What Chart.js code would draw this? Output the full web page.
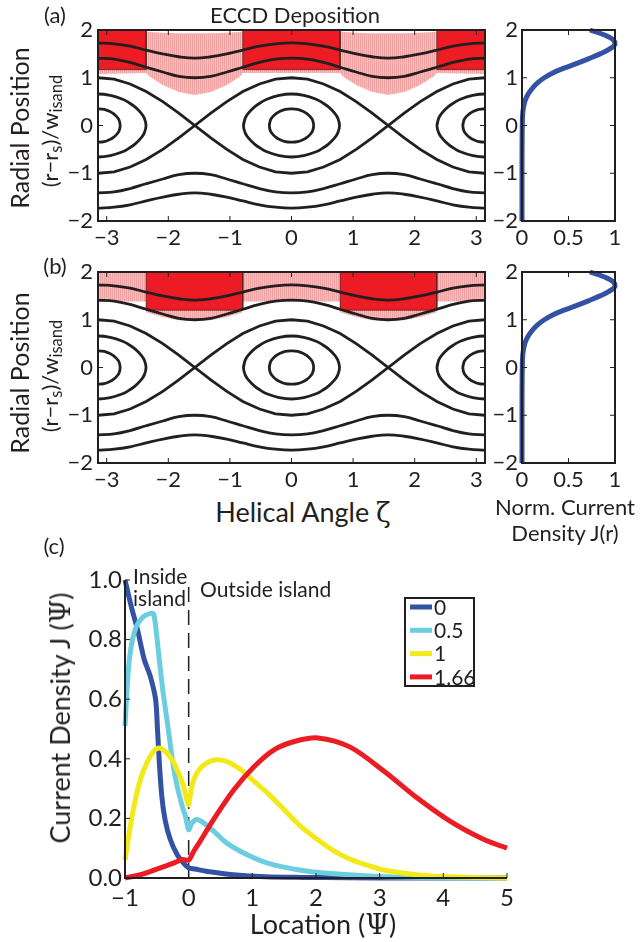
<!DOCTYPE html>
<html>
<head>
<meta charset="utf-8">
<script src="https://cdn.jsdelivr.net/npm/chart.js@4.4.1/dist/chart.umd.min.js"></script>
<style>
  body { margin: 0; background: #fff; }
  #fig { position: relative; width: 644px; height: 942px; overflow: hidden; font-family: Lato, 'Open Sans', sans-serif; color: #231f20; }
  canvas { position: absolute; }
  .t { position: absolute; white-space: nowrap; transform: translate(-50%, -50%); line-height: 1; }
  .rot { transform: translate(-50%, -50%) rotate(-90deg); }
  .l { position: absolute; white-space: nowrap; line-height: 1; }
  .gr { font-family: 'DejaVu Serif', 'Liberation Serif', serif; }
  sub { font-size: 75%; vertical-align: -0.25em; }
</style>
</head>
<body>
<div id="fig">
  <canvas id="aMain" width="495" height="250" style="left:0;top:0"></canvas>
  <canvas id="aProf" width="164" height="250" style="left:480px;top:0"></canvas>
  <canvas id="bMain" width="495" height="250" style="left:0;top:242px"></canvas>
  <canvas id="bProf" width="164" height="250" style="left:480px;top:242px"></canvas>
  <canvas id="cLines" width="540" height="382" style="left:0;top:560px"></canvas>

  <div class="t" style="left:55px;top:15px;font-size:22px">(a)</div>
  <div class="t" style="left:295px;top:15px;font-size:22px">ECCD Deposition</div>
  <div class="t rot" style="left:19px;top:128px;font-size:25px">Radial Position</div>
  <div class="t rot" style="left:52px;top:131px;font-size:22px">(r−r<sub>s</sub>)/w<sub>isand</sub></div>

  <div class="t" style="left:55px;top:266px;font-size:22px">(b)</div>
  <div class="t rot" style="left:19px;top:373px;font-size:25px">Radial Position</div>
  <div class="t rot" style="left:52px;top:376px;font-size:22px">(r−r<sub>s</sub>)/w<sub>isand</sub></div>

  <div class="t" style="left:303px;top:512px;font-size:27px">Helical Angle <span class="gr">ζ</span></div>
  <div class="t" style="left:565px;top:507px;font-size:22px">Norm. Current</div>
  <div class="t" style="left:565px;top:533px;font-size:22px">Density J(r)</div>

  <div class="t" style="left:54px;top:546px;font-size:22px">(c)</div>
  <div class="l" style="left:133px;top:565px;font-size:21px">Inside</div>
  <div class="l" style="left:133px;top:587px;font-size:21px">island</div>
  <div class="l" style="left:200px;top:578px;font-size:21px">Outside island</div>
  <div class="t rot" style="left:60px;top:718px;font-size:27px">Current Density J (<span class="gr">Ψ</span>)</div>
  <div class="t" style="left:323px;top:924px;font-size:27px">Location (<span class="gr">Ψ</span>)</div>
</div>

<script>
// ---- flux-surface contours (shared by panels a and b) ----
const zetaGrid = [-3.14, -2.88, -2.62, -2.36, -2.09, -1.83, -1.57, -1.31, -1.05, -0.79, -0.52, -0.26, 0,
                  0.26, 0.52, 0.79, 1.05, 1.31, 1.57, 1.83, 2.09, 2.36, 2.62, 2.88, 3.14];
const outerWave = [1.73, 1.71, 1.66, 1.58, 1.50, 1.44, 1.41, 1.44, 1.50, 1.58, 1.66, 1.71, 1.73,
                   1.71, 1.66, 1.58, 1.50, 1.44, 1.41, 1.44, 1.50, 1.58, 1.66, 1.71, 1.73];
const innerWave = [1.41, 1.39, 1.32, 1.22, 1.12, 1.03, 1.00, 1.03, 1.12, 1.22, 1.32, 1.39, 1.41,
                   1.39, 1.32, 1.22, 1.12, 1.03, 1.00, 1.03, 1.12, 1.22, 1.32, 1.39, 1.41];
const separatrix = [1.00, 0.97, 0.87, 0.71, 0.50, 0.26, 0, 0.26, 0.50, 0.71, 0.87, 0.97, 1.00,
                    0.97, 0.87, 0.71, 0.50, 0.26, 0, 0.26, 0.50, 0.71, 0.87, 0.97, 1.00];
// half-width of closed surfaces inside the island (from O-point outward)
const smallIslandZeta = [0, 0.1, 0.2, 0.25, 0.3, 0.34, 0.36];
const smallIslandR    = [0.35, 0.34, 0.29, 0.25, 0.19, 0.12, 0];
const midIslandZeta   = [0, 0.2, 0.4, 0.5, 0.6, 0.7, 0.75, 0.78];
const midIslandR      = [0.66, 0.63, 0.55, 0.48, 0.39, 0.26, 0.16, 0];
const islandCenters   = [-3.1416, 0, 3.1416];

// ---- ECCD deposition regions ----
const boxesA = [[-3.14, -2.36], [-0.79, 0.79], [2.36, 3.14]];
const boxRA  = [1.17, 2.0];
const pinkZetaA   = [-3.14, -2.36, -2.3, -2.09, -1.83, -1.57, -1.31, -1.05, -0.84, -0.79,
                     0.79, 0.84, 1.05, 1.31, 1.57, 1.83, 2.09, 2.3, 2.36, 3.14];
const pinkTopA    = [1.98, 1.97, 1.96, 1.94, 1.93, 1.93, 1.93, 1.94, 1.96, 1.97,
                     1.97, 1.96, 1.94, 1.93, 1.93, 1.93, 1.94, 1.96, 1.97, 1.98];
const pinkBottomA = [1.08, 1.10, 1.02, 0.85, 0.70, 0.64, 0.70, 0.85, 1.02, 1.10,
                     1.10, 1.02, 0.85, 0.70, 0.64, 0.70, 0.85, 1.02, 1.10, 1.08];

const boxesB = [[-2.36, -0.79], [0.79, 2.36]];
const boxRB  = [1.20, 2.0];
const pinkZetaB   = [-3.14, -2.36, -2.35, -2.09, -1.83, -1.57, -1.31, -1.05, -0.8, -0.79,
                     0.79, 0.8, 1.05, 1.31, 1.57, 1.83, 2.09, 2.35, 2.36, 3.14];
const pinkTopB    = [2, 2, 2, 2, 2, 2, 2, 2, 2, 2, 2, 2, 2, 2, 2, 2, 2, 2, 2, 2];
const pinkBottomB = [1.38, 1.38, 1.15, 1.06, 0.99, 0.97, 0.99, 1.06, 1.15, 1.38,
                     1.38, 1.15, 1.06, 0.99, 0.97, 0.99, 1.06, 1.15, 1.38, 1.38];

// ---- normalised current profile J(r) ----
const profR = [-2, -1, 0, 0.3, 0.5, 0.6, 0.7, 0.8, 0.9, 1.0, 1.1, 1.2, 1.3, 1.4, 1.5, 1.6, 1.7, 1.8, 1.9, 2.0];
const profJ = [0, 0, 0.003, 0.01, 0.03, 0.05, 0.08, 0.12, 0.17, 0.24, 0.33, 0.45, 0.59, 0.72, 0.84, 0.94, 1.0, 0.98, 0.88, 0.73];

// ---- panel (c) current density vs location ----
const seriesLabels = ['0', '0.5', '1', '1.66'];
const seriesColors = ['#3452a4', '#6dcde0', '#f2ea18', '#ec1c24'];
const psi0   = [-1, -0.9, -0.8, -0.7, -0.6, -0.52, -0.49, -0.46, -0.42, -0.37, -0.29, -0.18, -0.08, 0, 0.1, 0.3, 0.7, 1.2, 1.8, 2.5, 3.5, 5];
const j0     = [1.0, 0.91, 0.83, 0.735, 0.675, 0.60, 0.50, 0.385, 0.27, 0.195, 0.13, 0.078, 0.05, 0.034, 0.03, 0.022, 0.011, 0.004, 0.002, 0.001, 0, 0];
const psi05  = [-1, -0.95, -0.9, -0.82, -0.71, -0.6, -0.55, -0.5, -0.45, -0.4, -0.34, -0.29, -0.24, -0.18, -0.1, -0.05, 0, 0.05, 0.13, 0.24, 0.4, 0.6, 0.92, 1.24, 1.76, 2.24, 3, 4, 5];
const j05    = [0.51, 0.69, 0.78, 0.845, 0.877, 0.888, 0.886, 0.81, 0.71, 0.62, 0.53, 0.45, 0.374, 0.307, 0.24, 0.207, 0.162, 0.184, 0.196, 0.184, 0.156, 0.117, 0.078, 0.05, 0.026, 0.015, 0.005, 0.001, 0];
const psi1   = [-1, -0.92, -0.84, -0.76, -0.66, -0.55, -0.46, -0.37, -0.26, -0.16, -0.08, -0.03, 0, 0.03, 0.08, 0.18, 0.32, 0.45, 0.61, 0.82, 1.03, 1.24, 1.5, 1.76, 2.03, 2.27, 2.53, 2.8, 3.06, 3.58, 4.11, 5];
const j1     = [0.06, 0.17, 0.26, 0.33, 0.385, 0.425, 0.436, 0.425, 0.397, 0.352, 0.307, 0.263, 0.246, 0.285, 0.33, 0.368, 0.39, 0.397, 0.39, 0.363, 0.324, 0.285, 0.229, 0.173, 0.128, 0.092, 0.064, 0.043, 0.027, 0.011, 0.004, 0];
const psi166 = [-1, -0.76, -0.5, -0.24, -0.1, 0, 0.08, 0.18, 0.39, 0.71, 1.03, 1.34, 1.66, 2.03, 2.53, 3.06, 3.58, 4.11, 4.63, 5];
const j166   = [0, 0.011, 0.03, 0.05, 0.062, 0.06, 0.09, 0.123, 0.196, 0.296, 0.374, 0.43, 0.458, 0.47, 0.44, 0.36, 0.27, 0.19, 0.13, 0.10];
const islandEdge = [0];   // dashed separatrix marker in (c)

const zetaTicks   = [-3, -2, -1, 0, 1, 2, 3];
const radialTicks = [-2, -1, 0, 1, 2];
const profTicks   = [0, 0.5, 1];
const locTicks    = [-1, 0, 1, 2, 3, 4, 5];
const densTicks   = [0, 0.2, 0.4, 0.6, 0.8, 1.0];

const INK = '#231f20';
Chart.defaults.font.family = 'Lato, "Open Sans", sans-serif';
Chart.defaults.color = INK;

const fmt = v => String(v).replace('-', '\u2212');
const pts = (xs, ys) => xs.map((x, i) => ({ x: x, y: ys[i] }));

// box frame + inward MATLAB-style ticks
const frameTicks = {
  id: 'frameTicks',
  afterDatasetsDraw(chart, args, o) {
    const { ctx, chartArea: a, scales } = chart;
    ctx.save();
    ctx.strokeStyle = INK;
    ctx.lineWidth = 2;
    ctx.beginPath();
    if (o.box) {
      ctx.rect(a.left, a.top, a.right - a.left, a.bottom - a.top);
    } else {
      ctx.moveTo(a.left, a.top); ctx.lineTo(a.left, a.bottom); ctx.lineTo(a.right, a.bottom);
    }
    ctx.stroke();
    ctx.lineWidth = 1;
    ctx.beginPath();
    scales.x.ticks.forEach(t => {
      const p = scales.x.getPixelForValue(t.value);
      ctx.moveTo(p, a.bottom); ctx.lineTo(p, a.bottom - 5);
      if (o.box) { ctx.moveTo(p, a.top); ctx.lineTo(p, a.top + 5); }
    });
    scales.y.ticks.forEach(t => {
      const p = scales.y.getPixelForValue(t.value);
      ctx.moveTo(a.left, p); ctx.lineTo(a.left + 5, p);
      if (o.box) { ctx.moveTo(a.right, p); ctx.lineTo(a.right - 5, p); }
    });
    ctx.stroke();
    ctx.restore();
  }
};

// boxed legend inside panel (c)
const boxLegend = {
  id: 'boxLegend',
  afterDraw(chart, args, o) {
    if (!o.show) return;
    const ctx = chart.ctx;
    const items = chart.data.datasets.filter(d => d.label);
    ctx.save();
    ctx.fillStyle = '#fff';
    ctx.fillRect(o.x, o.y, o.w, o.h);
    ctx.strokeStyle = INK; ctx.lineWidth = 2;
    ctx.strokeRect(o.x, o.y, o.w, o.h);
    ctx.font = '21px Lato, "Open Sans", sans-serif';
    ctx.textBaseline = 'middle';
    items.forEach((d, i) => {
      const y = o.y + 9 + i * 23.3;
      ctx.strokeStyle = d.borderColor; ctx.lineWidth = 5;
      ctx.beginPath(); ctx.moveTo(o.x + 5, y); ctx.lineTo(o.x + 27, y); ctx.stroke();
      ctx.fillStyle = INK;
      ctx.fillText(d.label, o.x + 29, y + 1);
    });
    ctx.restore();
  }
};

function hatch(ctx) {
  const c = document.createElement('canvas');
  c.width = 2; c.height = 1;
  const p = c.getContext('2d');
  p.fillStyle = 'rgb(240,162,162)'; p.fillRect(0, 0, 1, 1);
  p.fillStyle = 'rgb(247,192,192)'; p.fillRect(1, 0, 1, 1);
  return ctx.createPattern(c, 'repeat');
}

function contour(points, tension) {
  return { data: points, showLine: true, borderColor: INK, borderWidth: 2.8, pointRadius: 0, tension: tension, fill: false, order: 0 };
}

function islandLoop(zs, rs, c) {
  const out = [];
  for (let i = zs.length - 1; i >= 0; i--) out.push({ x: c - zs[i], y: rs[i] });
  for (let i = 1; i < zs.length; i++) out.push({ x: c + zs[i], y: rs[i] });
  for (let i = zs.length - 2; i >= 0; i--) out.push({ x: c + zs[i], y: -rs[i] });
  for (let i = 1; i < zs.length; i++) out.push({ x: c - zs[i], y: -rs[i] });
  out.push(out[1]);
  return out;
}

function contourSets() {
  const sets = [];
  [outerWave, innerWave].forEach(w => {
    sets.push(contour(pts(zetaGrid, w), 0.4));
    sets.push(contour(pts(zetaGrid, w.map(v => -v)), 0.4));
  });
  sets.push(contour(pts(zetaGrid, separatrix), 0));
  sets.push(contour(pts(zetaGrid, separatrix.map(v => -v)), 0));
  islandCenters.forEach(c => {
    sets.push(contour(islandLoop(midIslandZeta, midIslandR, c), 0.4));
    sets.push(contour(islandLoop(smallIslandZeta, smallIslandR, c), 0.4));
  });
  return sets;
}

function axisStyle(ticks, size, pad, fitKey, fitVal, extra) {
  return Object.assign({
    type: 'linear',
    afterBuildTicks: s => { s.ticks = ticks.map(v => ({ value: v })); },
    afterFit: s => { s[fitKey] = fitVal; },
    grid: { display: false, drawTicks: false },
    border: { display: false },
    ticks: { padding: pad, font: { size: size }, maxRotation: 0, autoSkip: false, callback: v => fmt(v) }
  }, extra);
}

function mainPanel(id, boxes, boxR, pZeta, pTop, pBottom) {
  const ctx = document.getElementById(id).getContext('2d');
  const datasets = contourSets();
  boxes.forEach(([a, b]) => {
    datasets.push({
      data: [{ x: a, y: boxR[0] }, { x: a, y: boxR[1] }, { x: b, y: boxR[1] }, { x: b, y: boxR[0] }, { x: a, y: boxR[0] }],
      showLine: true, fill: 'shape', backgroundColor: '#ed1c24', borderColor: 'rgba(70,30,30,0.7)',
      borderWidth: 1, pointRadius: 0, tension: 0, order: 20
    });
  });
  const poly = pts(pZeta, pTop).concat(pts(pZeta, pBottom).reverse());
  poly.push(poly[0]);
  datasets.push({ data: poly, showLine: true, fill: 'shape', backgroundColor: hatch(ctx), borderColor: 'transparent',
                  borderWidth: 0, pointRadius: 0, tension: 0, order: 30 });
  new Chart(ctx, {
    type: 'scatter',
    data: { datasets: datasets },
    options: {
      responsive: false, animation: false,
      layout: { padding: { top: 30, right: 10, left: 0, bottom: 0 } },
      plugins: { legend: { display: false }, tooltip: { enabled: false }, frameTicks: { box: true } },
      scales: {
        x: axisStyle(zetaTicks, 22, 4, 'height', 29, { min: -Math.PI, max: Math.PI }),
        y: axisStyle(radialTicks, 22, 5, 'width', 98, { min: -2, max: 2 })
      }
    },
    plugins: [frameTicks]
  });
}

function profilePanel(id) {
  const ctx = document.getElementById(id).getContext('2d');
  new Chart(ctx, {
    type: 'scatter',
    data: { datasets: [{ data: pts(profJ, profR), showLine: true, borderColor: '#3452a4', borderWidth: 5,
                         pointRadius: 0, tension: 0.4, clip: 4 }] },
    options: {
      responsive: false, animation: false,
      layout: { padding: { top: 30, right: 29, left: 0, bottom: 0 } },
      plugins: { legend: { display: false }, tooltip: { enabled: false }, frameTicks: { box: true } },
      scales: {
        x: axisStyle(profTicks, 22, 4, 'height', 29, { min: 0, max: 1 }),
        y: axisStyle(radialTicks, 22, 4, 'width', 42, { min: -2, max: 2 })
      }
    },
    plugins: [frameTicks]
  });
}

mainPanel('aMain', boxesA, boxRA, pinkZetaA, pinkTopA, pinkBottomA);
profilePanel('aProf');
mainPanel('bMain', boxesB, boxRB, pinkZetaB, pinkTopB, pinkBottomB);
profilePanel('bProf');

// panel (c)
const cSeries = [[psi0, j0], [psi05, j05], [psi1, j1], [psi166, j166]];
const cSets = cSeries.map(([xs, ys], i) => ({
  label: seriesLabels[i], data: pts(xs, ys), showLine: true, borderColor: seriesColors[i],
  borderWidth: 5, pointRadius: 0, tension: 0.3, clip: 6, order: 4 - i
}));
cSets.push({
  data: [{ x: islandEdge[0], y: densTicks[0] }, { x: islandEdge[0], y: densTicks[densTicks.length - 1] }],
  showLine: true, borderColor: INK, borderWidth: 1.5, borderDash: [15, 8], pointRadius: 0, order: 10
});
new Chart(document.getElementById('cLines').getContext('2d'), {
  type: 'scatter',
  data: { datasets: cSets },
  options: {
    responsive: false, animation: false,
    layout: { padding: { top: 20, right: 33, left: 0, bottom: 0 } },
    plugins: {
      legend: { display: false }, tooltip: { enabled: false },
      frameTicks: { box: false },
      boxLegend: { show: true, x: 405, y: 38, w: 69, h: 88 }
    },
    scales: {
      x: axisStyle(locTicks, 24, 6, 'height', 64, { min: -1, max: 5 }),
      y: Object.assign(axisStyle(densTicks, 24, 3, 'width', 125, { min: 0, max: 1 }),
                       { ticks: { padding: 3, font: { size: 24 }, callback: v => v.toFixed(1) } })
    }
  },
  plugins: [frameTicks, boxLegend]
});
</script>
</body>
</html>
